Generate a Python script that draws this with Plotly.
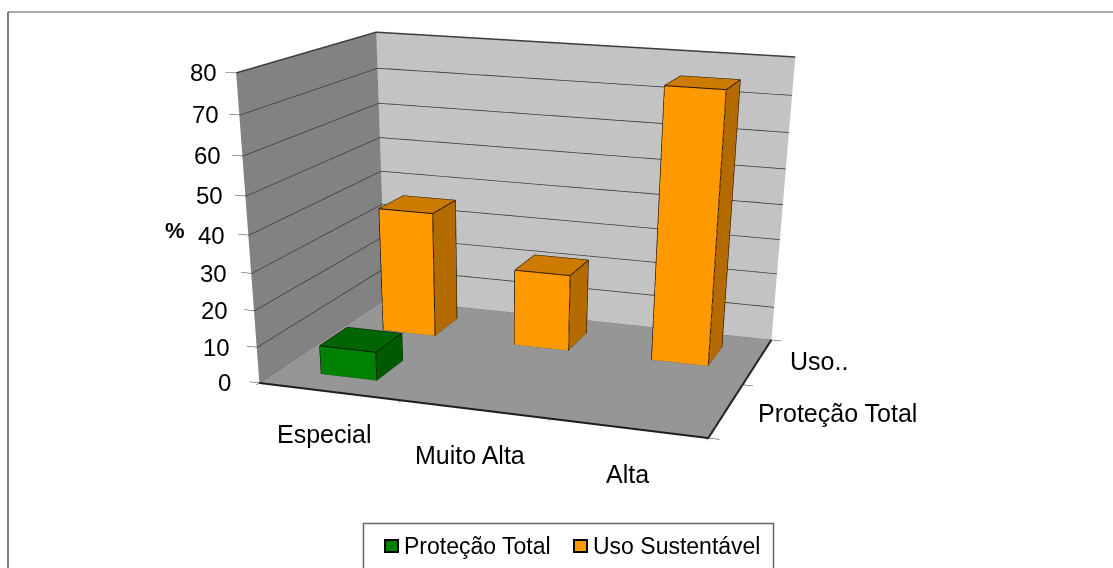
import plotly.graph_objects as go

categories = ["Especial", "Muito Alta", "Alta"]
series_names = ["Proteção Total", "Uso Sustentável"]
series_axis_labels = ["Proteção Total", "Uso.."]
protecao_total = [8, 0, 0]
uso_sustentavel = [36, 22, 75]
z_ticks = [0, 10, 20, 30, 40, 50, 60, 70, 80]

GAP_X, GAP_Y = 0.30, 0.29
PAD = 0.1
FONT = "Liberation Sans"
TICK_SIZE = 24
AXIS_LABEL_SIZE = 25
LEGEND_SIZE = 23
W, VIEW_H = 1113, 568
# the scene runs below the visible window to give the camera a long lens
FIG_H = 1300

FRONT = {"Proteção Total": "#008000", "Uso Sustentável": "#FF9900"}
SIDE = {"Proteção Total": "#005A00", "Uso Sustentável": "#B36B00"}
TOP = {"Proteção Total": "#006400", "Uso Sustentável": "#CC7A00"}
LIGHT = dict(ambient=1, diffuse=0, specular=0, fresnel=0, roughness=1)


def quad_mesh(corners, color):
    xs, ys, zs = zip(*corners)
    return go.Mesh3d(x=xs, y=ys, z=zs, i=[0, 0], j=[1, 2], k=[2, 3], facecolor=[color, color],
                     flatshading=True, lighting=LIGHT, hoverinfo="skip", showscale=False)


def polyline(points, color="#2a2a2a", width=1.5):
    xs, ys, zs = [], [], []
    for seg in points:
        for p in seg:
            xs.append(p[0]); ys.append(p[1]); zs.append(p[2])
        xs.append(None); ys.append(None); zs.append(None)
    return go.Scatter3d(x=xs, y=ys, z=zs, mode="lines", line=dict(color=color, width=width),
                        hoverinfo="skip", showlegend=False)


def bar_traces(cat_index, ser_index, value, name):
    x0, x1 = cat_index + GAP_X, cat_index + 1 - GAP_X
    y0, y1 = ser_index + GAP_Y, ser_index + 1 - GAP_Y
    xs = [x0, x1, x1, x0, x0, x1, x1, x0]
    ys = [y0, y0, y1, y1, y0, y0, y1, y1]
    zs = [0, 0, 0, 0, value, value, value, value]
    # front, right side and top faces are the only ones the camera sees
    i = [0, 0, 1, 1, 4, 4]
    j = [1, 5, 2, 6, 5, 6]
    k = [5, 4, 6, 5, 6, 7]
    colors = [FRONT[name]] * 2 + [SIDE[name]] * 2 + [TOP[name]] * 2
    mesh = go.Mesh3d(x=xs, y=ys, z=zs, i=i, j=j, k=k, facecolor=colors, flatshading=True,
                     lighting=LIGHT, hoverinfo="skip", name=name)
    c = list(zip(xs, ys, zs))
    edges = polyline([[c[0], c[1], c[2]], [c[4], c[5], c[6], c[7], c[4]], [c[0], c[4]], [c[1], c[5]], [c[2], c[6]]],
                     color="#201000" if name != "Proteção Total" else "#002000", width=2)
    return [mesh, edges]


n_cat, n_ser = len(categories), len(series_names)
top_z = z_ticks[-1]
fig = go.Figure()

# walls and floor
fig.add_trace(quad_mesh([(0, 0, 0), (n_cat, 0, 0), (n_cat, n_ser, 0), (0, n_ser, 0)], "#969696"))
fig.add_trace(quad_mesh([(0, n_ser, 0), (n_cat, n_ser, 0), (n_cat, n_ser, top_z), (0, n_ser, top_z)], "#C3C3C3"))
fig.add_trace(quad_mesh([(0, 0, 0), (0, n_ser, 0), (0, n_ser, top_z), (0, 0, top_z)], "#828282"))

# gridlines across both walls
grid = [[(0, 0, z), (0, n_ser, z), (n_cat, n_ser, z)] for z in z_ticks]
fig.add_trace(polyline(grid, color="#3c3c3c", width=3))

# floor outline and axis tick stubs
outline = [[(0, 0, 0), (n_cat, 0, 0), (n_cat, n_ser, 0)]]
fig.add_trace(polyline(outline, color="#1c1c1c", width=4))
stubs = [[(-0.07, 0, z), (0, 0, z)] for z in z_ticks]
stubs += [[(c, -0.04, 0), (c, 0, 0)] for c in range(n_cat + 1)]
stubs += [[(n_cat, s, 0), (n_cat + 0.07, s, 0)] for s in range(n_ser + 1)]
fig.add_trace(polyline(stubs, color="#333333", width=1))

for idx, value in enumerate(protecao_total):
    if value > 0:
        for t in bar_traces(idx, 0, value, series_names[0]):
            fig.add_trace(t)
for idx, value in enumerate(uso_sustentavel):
    if value > 0:
        for t in bar_traces(idx, 1, value, series_names[1]):
            fig.add_trace(t)

tick_font = dict(family=FONT, size=TICK_SIZE, color="#000000")
label_font = dict(family=FONT, size=AXIS_LABEL_SIZE, color="#000000")
legend_font = dict(family=FONT, size=LEGEND_SIZE, color="#000000")
scene_notes = []
for z in z_ticks:
    # tick labels sit a little closer to the wall at the bottom than at the top
    scene_notes.append(dict(x=0, y=0, z=z, text=str(z), showarrow=False, xanchor="right", yanchor="middle",
                            xshift=-26 + 9 * z / top_z, font=tick_font))
for idx, (name, dx, dy) in enumerate(zip(categories, (-5, -5, -1), (-42, -46, -46))):
    scene_notes.append(dict(x=idx + 0.5, y=0, z=0, text=name, showarrow=False, xshift=dx, yshift=dy,
                            font=label_font))
for idx, (name, dx, dy) in enumerate(zip(series_axis_labels, (30, 30), (-3, 0))):
    scene_notes.append(dict(x=n_cat, y=idx + 0.5, z=0, text=name, showarrow=False, xanchor="left", xshift=dx, yshift=dy,
                            font=label_font))
scene_notes.append(dict(x=0, y=0, z=40, text="<b>%</b>", showarrow=False, xshift=-73, yshift=5,
                        font=dict(family=FONT, size=22, color="#000")))


def px(x): return x / W
def py(y): return 1 - y / FIG_H


shapes = [
    dict(type="line", xref="paper", yref="paper", x0=px(8), x1=1, y0=py(12), y1=py(12), line=dict(color="#aaaaaa", width=2)),
    dict(type="line", xref="paper", yref="paper", x0=px(8), x1=px(8), y0=py(12), y1=py(VIEW_H + 2), line=dict(color="#555555", width=1.5)),
    dict(type="rect", xref="paper", yref="paper", x0=px(363.5), x1=px(773.5), y0=py(523.5), y1=py(VIEW_H + 2), line=dict(color="#666666", width=1.5)),
    dict(type="rect", xref="paper", yref="paper", x0=px(385), x1=px(398), y0=py(540), y1=py(552), fillcolor=FRONT[series_names[0]], line=dict(color="#000", width=2)),
    dict(type="rect", xref="paper", yref="paper", x0=px(574), x1=px(587), y0=py(540), y1=py(552), fillcolor=FRONT[series_names[1]], line=dict(color="#000", width=2)),
]
annotations = [
    dict(xref="paper", yref="paper", x=px(402), y=py(546), text=series_names[0], showarrow=False, xanchor="left", yanchor="middle", font=legend_font),
    dict(xref="paper", yref="paper", x=px(591), y=py(546), text=series_names[1], showarrow=False, xanchor="left", yanchor="middle", font=legend_font),
]

hidden = dict(visible=False, showgrid=False, zeroline=False, showticklabels=False, showspikes=False)
fig.update_layout(
    width=W, height=FIG_H, autosize=False, margin=dict(l=0, r=0, t=0, b=0),
    paper_bgcolor="#ffffff", showlegend=False, shapes=shapes, annotations=annotations,
    scene=dict(
        domain=dict(x=[0, 1], y=[0, 1]),
        bgcolor="rgba(0,0,0,0)",
        dragmode="orbit",
        xaxis=dict(range=[-PAD, n_cat + PAD], **hidden),
        yaxis=dict(range=[-PAD, n_ser + PAD], **hidden),
        zaxis=dict(range=[0, top_z], **hidden),
        aspectmode="manual",
        aspectratio=dict(x=1.5593 * (n_cat + 2 * PAD) / n_cat, y=1.106 * (n_ser + 2 * PAD) / n_ser, z=1),
        camera=dict(eye=dict(x=1.676, y=-5.1687, z=1.2386), center=dict(x=0.3687, y=-0.8018, z=-1.2038),
                    up=dict(x=-0.0167, y=-0.0049, z=1), projection=dict(type="perspective")),
        annotations=scene_notes,
    ),
)
fig.write_html("out.html", post_script="document.documentElement.style.overflow='hidden';document.body.style.overflow='hidden';")
